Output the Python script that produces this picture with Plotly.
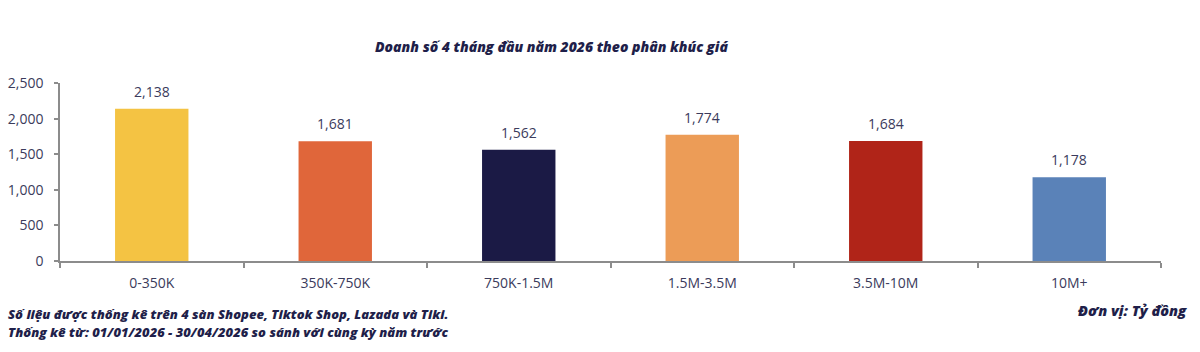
import plotly.graph_objects as go

categories = ["0-350K", "350K-750K", "750K-1.5M", "1.5M-3.5M", "3.5M-10M", "10M+"]
values = [2138, 1681, 1562, 1774, 1684, 1178]
colors = ["#F4C343", "#E0663A", "#1B1A45", "#EC9C57", "#B02418", "#5A82B8"]

title_text = "Doanh số 4 tháng đầu năm 2026 theo phân khúc giá"
note_lines = ["Số liệu được thống kê trên 4 sàn Shopee, Tiktok Shop, Lazada và Tiki.",
              "Thống kê từ: 01/01/2026 - 30/04/2026 so sánh với cùng kỳ năm trước"]
unit_text = "Đơn vị: Tỷ đồng"

navy = "#1F1F4A"
txt = "#3B3B5C"
axis_col = "#8C8C8C"


def heavy(size):
    return dict(family="Open Sans", size=size, color=navy, weight=800, style="italic")


def px_to_paper_x(px):
    return (px - 60) / 1101


def px_to_paper_y(py):
    return (261 - py) / 178


fig = go.Figure(go.Bar(
    x=categories, y=values,
    marker=dict(color=colors, line=dict(width=0)),
    width=0.4,
    hoverinfo="x+y",
))

value_labels = [
    dict(x=c, y=v, xref="x", yref="y", text=f"{v:,}", showarrow=False,
         xanchor="center", yanchor="bottom", yshift=6,
         font=dict(family="Open Sans", size=14, color=txt))
    for c, v in zip(categories, values)
]

fig.update_layout(
    width=1200, height=352,
    margin=dict(l=60, r=39, t=83, b=91),
    paper_bgcolor="white", plot_bgcolor="white",
    showlegend=False,
    font=dict(family="Open Sans", color=txt),
    annotations=value_labels + [
        dict(text=title_text, xref="paper", yref="paper",
             x=px_to_paper_x(551), y=px_to_paper_y(46), xanchor="center", yanchor="middle",
             showarrow=False, font=heavy(14)),
        dict(text=note_lines[0], xref="paper", yref="paper",
             x=px_to_paper_x(6), y=px_to_paper_y(314), xanchor="left", yanchor="middle",
             showarrow=False, font=heavy(13)),
        dict(text=note_lines[1], xref="paper", yref="paper",
             x=px_to_paper_x(6), y=px_to_paper_y(332), xanchor="left", yanchor="middle",
             showarrow=False, font=heavy(13)),
        dict(text=unit_text, xref="paper", yref="paper",
             x=px_to_paper_x(1189), y=px_to_paper_y(310), xanchor="right", yanchor="middle",
             showarrow=False, font=heavy(14.5)),
    ],
)

fig.update_xaxes(
    showline=True, linecolor=axis_col, linewidth=1.5,
    ticks="outside", tickson="boundaries", ticklen=5, tickcolor=axis_col, tickwidth=1.5,
    tickfont=dict(family="Open Sans", size=14, color=txt),
    ticklabelstandoff=8, automargin=False,
    showgrid=False,
)
fig.update_yaxes(
    range=[0, 2500], tickvals=[0, 500, 1000, 1500, 2000, 2500], tickformat=",",
    showline=True, linecolor=axis_col, linewidth=1.5,
    ticks="outside", ticklen=4, tickcolor=axis_col, tickwidth=1.5,
    tickfont=dict(family="Open Sans", size=14, color=txt),
    ticklabelstandoff=8, automargin=False,
    showgrid=False, zeroline=False,
)

fig.write_html("out.html")
